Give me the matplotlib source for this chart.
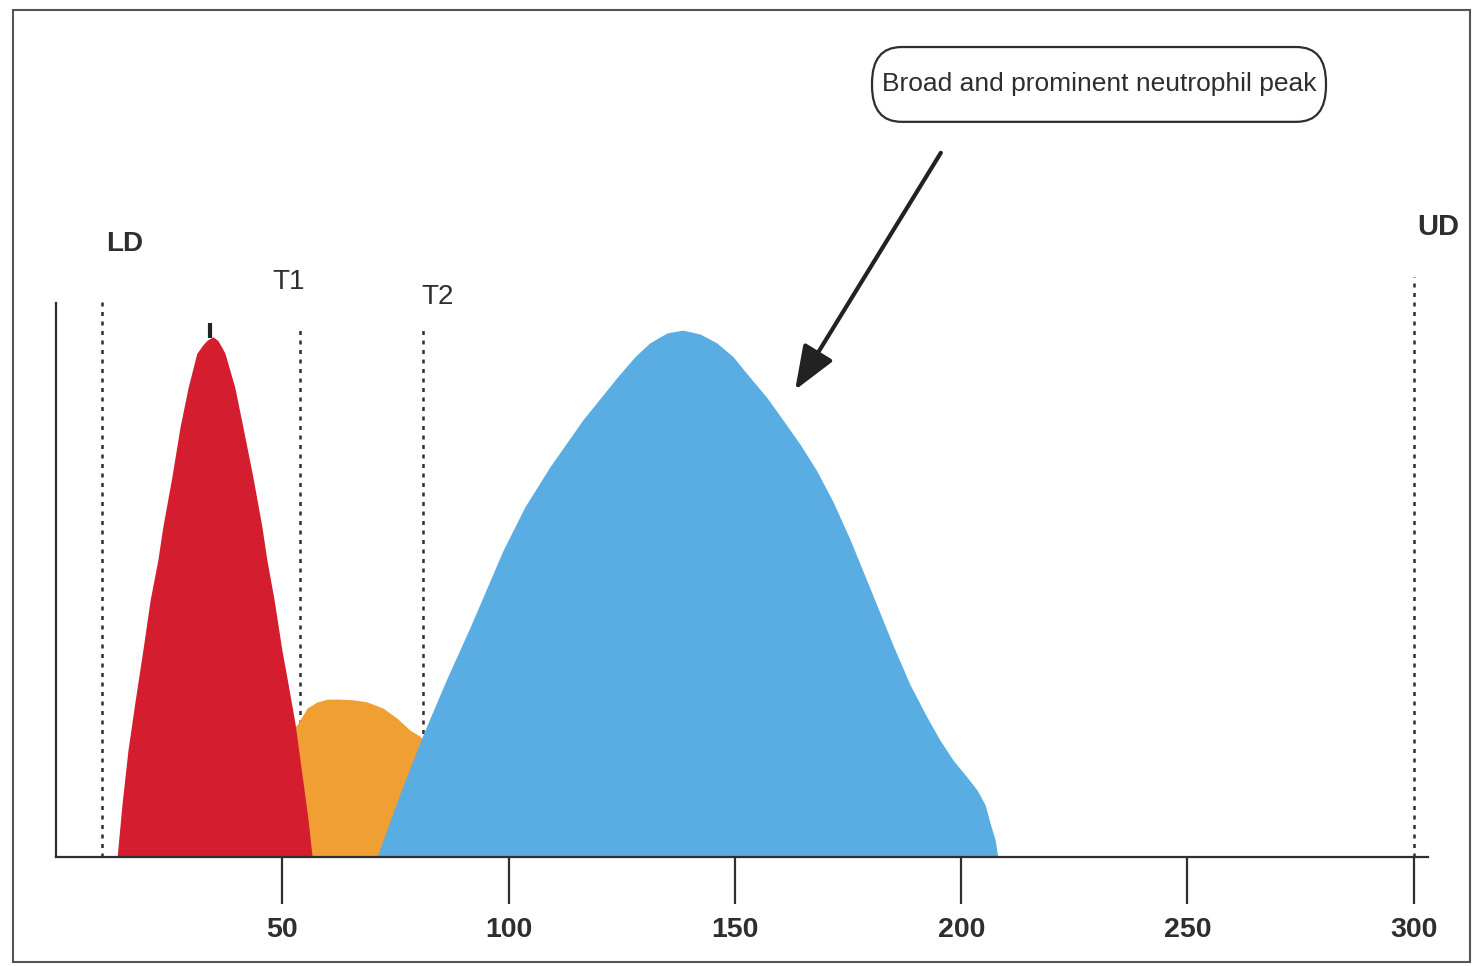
import matplotlib
matplotlib.use("Agg")
import matplotlib.pyplot as plt
from matplotlib.patches import Rectangle, FancyBboxPatch

plt.rcParams['font.family'] = ['Liberation Sans', 'DejaVu Sans']

# ---------------- data ----------------
# Lymphocyte population (red)
red_x = [13.5, 14.6, 15.9, 17.5, 19.2, 20.8, 22.5, 23.6, 25.6, 27.4, 29.2, 31.1, 32.4, 33.4, 34.7,
         35.8, 37.3, 39.5, 41.3, 43.5, 45.5, 46.6, 48.2, 49.9, 51.0, 52.8, 54.6, 55.7, 56.6]
red_y = [0.0, 9.7, 19.3, 28.3, 37.4, 46.4, 53.6, 59.6, 68.6, 77.6, 84.8, 90.9, 92.4, 93.3, 93.9,
         93.2, 91.0, 84.8, 77.6, 68.6, 59.6, 53.6, 46.4, 37.4, 32.5, 24.2, 13.4, 6.7, 0.0]

# Mid-cell population (orange)
orange_x = [49.5, 53.2, 55.5, 57.7, 60.0, 62.1, 65.4, 68.7, 72.2, 75.3, 78.2, 80.4, 83.0, 86.0, 89.0, 91.0]
orange_y = [22.0, 23.8, 26.9, 28.0, 28.5, 28.5, 28.4, 28.0, 26.9, 25.1, 22.9, 21.8, 19.5, 14.0, 6.0, 0.0]

# Neutrophil population (blue)
blue_x = [70.9, 75.9, 80.9, 86.2, 91.5, 98.8, 103.6, 109.1, 116.4, 124.0, 127.9, 131.2, 135.0, 138.5,
          142.3, 146.0, 149.6, 153.3, 157.1, 160.6, 164.4, 168.1, 171.7, 175.4, 180.1, 184.9, 188.7,
          192.4, 195.3, 198.2, 201.1, 203.5, 205.3, 206.4, 207.5, 208.1]
blue_y = [0.0, 11.2, 21.7, 31.9, 41.5, 55.4, 63.2, 70.4, 78.9, 86.6, 90.3, 92.8, 94.6, 95.1,
          94.4, 92.8, 90.3, 86.6, 82.9, 78.9, 74.5, 69.7, 64.1, 57.4, 48.0, 38.3, 31.1,
          25.3, 21.1, 17.5, 14.6, 12.1, 9.4, 6.1, 3.1, 0.0]

# Discriminator lines
disc_names = ['LD', 'T1', 'T2', 'UD']
disc_x = [10.1, 53.9, 81.0, 300.0]
disc_top = [100.9, 96.0, 95.1, 104.7]

x_ticks = [50, 100, 150, 200, 250, 300]
annotation_text = 'Broad and prominent neutrophil peak'

# ---------------- figure ----------------
fig = plt.figure(figsize=(14.8, 9.66), dpi=100)
ax = fig.add_axes([0, 0, 1, 1])
ax.set_xlim(-12.373, 314.63)
ax.set_ylim(-19.675, 154.69)

dark = '#2e2e2e'

# dotted discriminator lines (behind fills)
for xv, top in zip(disc_x, disc_top):
    ax.plot([xv, xv], [0, top], color=dark, lw=1.8, linestyle=(0, (1.6, 2.2)), zorder=1)

ax.fill_between(orange_x, 0, orange_y, color='#f0a032', lw=0, zorder=2)
ax.fill_between(blue_x, 0, blue_y, color='#5aade2', lw=0, zorder=3)
ax.fill_between(red_x, 0, red_y, color='#d41e30', lw=0, zorder=4)

# small mark on top of lymphocyte peak
ax.plot([34.0, 34.0], [93.6, 96.4], color='#222222', lw=3, solid_capstyle='butt', zorder=5)

# labels for discriminators
ax.text(15.25, 110.6, 'LD', fontsize=20, fontweight='bold', color=dark, ha='center', va='center')
ax.text(305.3, 113.8, 'UD', fontsize=21, fontweight='bold', color=dark, ha='center', va='center')
ax.text(51.5, 103.8, 'T1', fontsize=20, color=dark, ha='center', va='center')
ax.text(84.4, 101.0, 'T2', fontsize=20, color=dark, ha='center', va='center')

# spines
for s in ['top', 'right']:
    ax.spines[s].set_visible(False)
ax.spines['left'].set_position(('data', 0))
ax.spines['bottom'].set_position(('data', 0))
ax.spines['left'].set_bounds(0, 100.0)
ax.spines['bottom'].set_bounds(0, 303.1)
for s in ['left', 'bottom']:
    ax.spines[s].set_color(dark)
    ax.spines[s].set_linewidth(1.6)
    ax.spines[s].set_zorder(6)

ax.set_yticks([])
ax.set_xticks(x_ticks)
ax.set_xticklabels([str(t) for t in x_ticks])
ax.tick_params(axis='x', direction='out', length=34, width=1.6, color=dark, pad=9,
               labelsize=20.5, labelcolor=dark)
for lab in ax.get_xticklabels():
    lab.set_fontweight('bold')
ax.patch.set_visible(False)

# annotation box and arrow
box = FancyBboxPatch((180.3, 132.7), 100.3, 13.5,
                     boxstyle='round,pad=0,rounding_size=6.5',
                     fc='white', ec=dark, lw=1.6, zorder=6)
ax.add_patch(box)
ax.text(230.4, 139.6, annotation_text, fontsize=19, color=dark, ha='center', va='center', zorder=7)
ax.annotate('', xy=(163.3, 84.3), xytext=(195.5, 127.1),
            arrowprops=dict(arrowstyle='-|>,head_length=0.9,head_width=0.35', color='#222222',
                            lw=3, mutation_scale=30, shrinkA=0, shrinkB=0), zorder=7)

# outer frame
fig.patches.append(Rectangle((13 / 1480, 1 - 962 / 966), (1470 - 13) / 1480, (962 - 10) / 966,
                             transform=fig.transFigure, fill=False, lw=1.5, ec='#555555'))

fig.savefig('out.png', dpi=100)
